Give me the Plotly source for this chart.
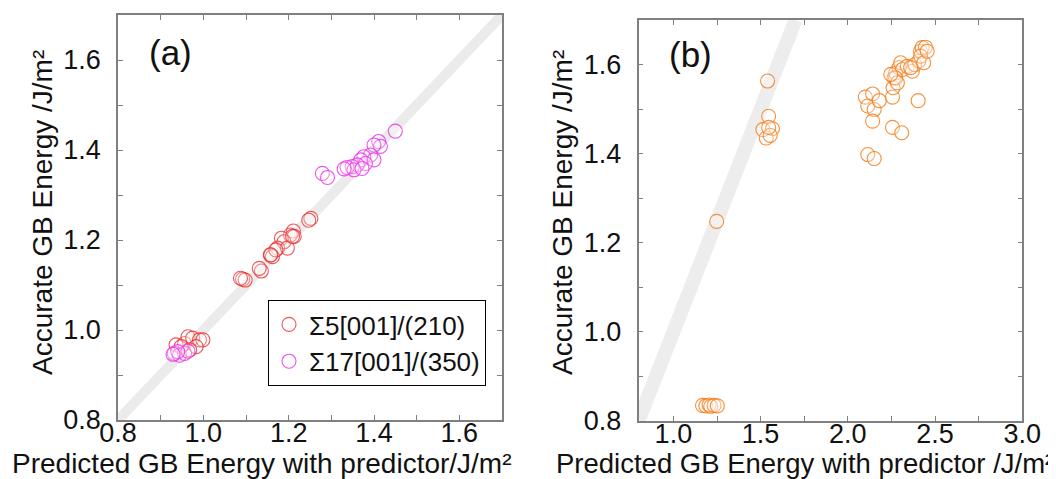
import plotly.graph_objects as go

# ---------------- data ----------------
# Panel (a): Sigma5[001]/(210)
s5_pred = [1.252, 1.247, 1.211, 1.204, 1.213, 1.183, 1.189, 1.174, 1.197, 1.157, 1.162,
           1.136, 1.131, 1.092, 1.098, 1.087, 1.170, 1.209, 1.158,
           0.936, 0.956, 0.964, 0.975, 0.991, 0.999, 0.983, 0.968, 0.948]
s5_acc = [1.248, 1.244, 1.220, 1.211, 1.208, 1.204, 1.196, 1.182, 1.182, 1.167, 1.163,
          1.131, 1.137, 1.113, 1.111, 1.115, 1.178, 1.208, 1.167,
          0.967, 0.970, 0.985, 0.982, 0.978, 0.978, 0.963, 0.956, 0.963]
# Panel (a): Sigma17[001]/(350)
s17_pred = [1.450, 1.411, 1.415, 1.400, 1.392, 1.376, 1.369, 1.400, 1.380, 1.361, 1.349,
            1.337, 1.353, 1.372, 1.330, 1.279, 1.291,
            0.932, 0.944, 0.956, 0.964, 0.940, 0.929]
s17_acc = [1.442, 1.419, 1.408, 1.411, 1.389, 1.385, 1.378, 1.378, 1.370, 1.367, 1.363,
           1.361, 1.356, 1.359, 1.358, 1.348, 1.339,
           0.948, 0.944, 0.948, 0.953, 0.952, 0.946]
# Panel (b)
b_pred = [1.167, 1.186, 1.205, 1.214, 1.233, 1.252, 1.248,
          1.540, 1.546, 1.513, 1.568, 1.532, 1.555, 1.546,
          2.100, 2.142, 2.114, 2.151, 2.180, 2.142, 2.114, 2.151, 2.256, 2.309, 2.403,
          2.256, 2.259, 2.265, 2.274, 2.293, 2.303, 2.313, 2.341, 2.370, 2.384, 2.407,
          2.417, 2.426, 2.445, 2.417, 2.435, 2.274, 2.284, 2.246, 2.455, 2.360]
b_acc = [0.835, 0.834, 0.836, 0.833, 0.835, 0.834, 1.248,
         1.563, 1.484, 1.454, 1.456, 1.435, 1.441, 1.459,
         1.527, 1.534, 1.507, 1.499, 1.519, 1.473, 1.398, 1.389, 1.459, 1.447, 1.519,
         1.527, 1.548, 1.570, 1.581, 1.593, 1.604, 1.589, 1.596, 1.585, 1.600, 1.608,
         1.630, 1.638, 1.639, 1.619, 1.604, 1.570, 1.559, 1.578, 1.630, 1.593]
diag = [0.8, 1.7]

a_ticks = [0.8, 0.9, 1.0, 1.1, 1.2, 1.3, 1.4, 1.5, 1.6]
a_ticktext = ["0.8", "", "1.0", "", "1.2", "", "1.4", "", "1.6"]
bx_ticks = [1.0, 1.25, 1.5, 1.75, 2.0, 2.25, 2.5, 2.75, 3.0]
bx_ticktext = ["1.0", "", "1.5", "", "2.0", "", "2.5", "", "3.0"]

FONT = "Arial, Liberation Sans, sans-serif"
AXC = "#808080"

fig = go.Figure()
fig.add_trace(go.Scatter(x=diag, y=diag, mode="lines", line=dict(color="#ebebeb", width=10),
                         showlegend=False, hoverinfo="skip", xaxis="x", yaxis="y"))
fig.add_trace(go.Scatter(x=diag, y=diag, mode="lines", line=dict(color="#ededed", width=14),
                         showlegend=False, hoverinfo="skip", xaxis="x2", yaxis="y2"))
fig.add_trace(go.Scatter(x=s5_pred, y=s5_acc, mode="markers", name="Σ5[001]/(210)",
                         marker=dict(symbol="circle", size=14, color="rgba(255,255,255,0.25)",
                                     line=dict(color="rgba(232,45,45,0.8)", width=1.1)),
                         xaxis="x", yaxis="y"))
fig.add_trace(go.Scatter(x=s17_pred, y=s17_acc, mode="markers", name="Σ17[001]/(350)",
                         marker=dict(symbol="circle", size=14, color="rgba(255,255,255,0.25)",
                                     line=dict(color="rgba(235,50,235,0.85)", width=1.1)),
                         xaxis="x", yaxis="y"))
fig.add_trace(go.Scatter(x=b_pred, y=b_acc, mode="markers", showlegend=False,
                         marker=dict(symbol="circle", size=14, color="rgba(255,255,255,0.3)",
                                     line=dict(color="rgba(245,125,25,0.85)", width=1.1)),
                         xaxis="x2", yaxis="y2"))

axcommon = dict(showline=True, linecolor=AXC, linewidth=1.5, mirror="ticks", ticks="inside",
                ticklen=5, tickwidth=1.2, tickcolor=AXC, showgrid=False, zeroline=False,
                automargin=False, tickfont=dict(family=FONT, size=27, color="#111"))

fig.update_layout(
    width=1056, height=479, template="none",
    margin=dict(l=0, r=0, t=0, b=0),
    paper_bgcolor="white", plot_bgcolor="white",
    xaxis=dict(domain=[110/1056, 494/1056], range=[0.8, 1.7], tickmode="array",
               tickvals=a_ticks, ticktext=a_ticktext, anchor="y", ticklabelstandoff=-12, **axcommon),
    yaxis=dict(domain=[1-412/479, 1-7/479], range=[0.8, 1.7], tickmode="array",
               tickvals=a_ticks, ticktext=a_ticktext, anchor="x", ticklabelstandoff=10, **axcommon),
    xaxis2=dict(domain=[630.5/1056, 1014.3/1056], range=[0.8, 3.0], tickmode="array",
                tickvals=bx_ticks, ticktext=bx_ticktext, anchor="y2", ticklabelstandoff=-12, **axcommon),
    yaxis2=dict(domain=[1-413/479, 1-12/479], range=[0.8, 1.7], tickmode="array",
                tickvals=a_ticks, ticktext=a_ticktext, anchor="x2", ticklabelstandoff=10, **axcommon),
    legend=dict(x=478/1056, y=1-378/479, xanchor="right", yanchor="bottom",
                bgcolor="white", bordercolor="black", borderwidth=1,
                font=dict(family=FONT, size=26, color="#111"), itemwidth=30,
                tracegroupgap=0),
    showlegend=True,
)

ann = dict(xref="paper", yref="paper", showarrow=False)
fig.add_annotation(text="Predicted GB Energy with predictor/J/m²", x=254/1056, y=1-455/479,
                   xanchor="center", yanchor="middle", font=dict(family=FONT, size=28, color="#111"), **ann)
fig.add_annotation(text="Predicted GB Energy with predictor /J/m²", x=797/1056, y=1-455/479,
                   xanchor="center", yanchor="middle", font=dict(family=FONT, size=27.5, color="#111"), **ann)
fig.add_annotation(text="Accurate GB Energy /J/m²", x=34/1056, y=1-205/479, textangle=-90,
                   xanchor="center", yanchor="middle", font=dict(family=FONT, size=28, color="#111"), **ann)
fig.add_annotation(text="Accurate GB Energy /J/m²", x=554/1056, y=1-205/479, textangle=-90,
                   xanchor="center", yanchor="middle", font=dict(family=FONT, size=28, color="#111"), **ann)
fig.add_annotation(text="(a)", x=162.5/1056, y=1-44/479, xanchor="center", yanchor="middle",
                   font=dict(family=FONT, size=35, color="#111"), **ann)
fig.add_annotation(text="(b)", x=682/1056, y=1-46/479, xanchor="center", yanchor="middle",
                   font=dict(family=FONT, size=35, color="#111"), **ann)

fig.write_html("out.html")
